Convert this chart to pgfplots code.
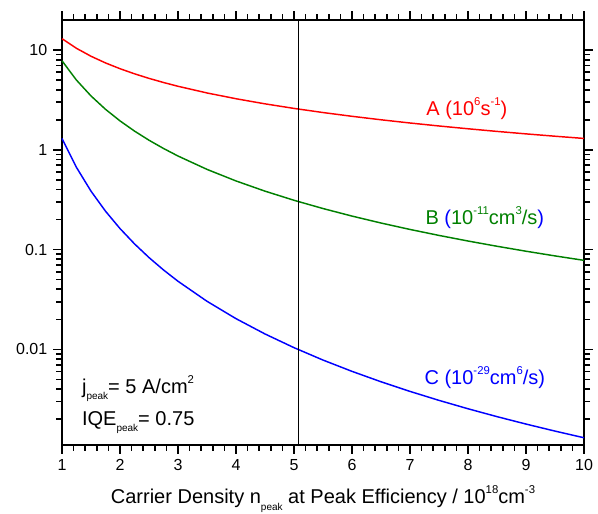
\documentclass[border=0pt]{standalone}
\usepackage{pgfplots}
\pgfplotsset{compat=1.18}
\usepackage{fontspec}
\setmainfont{Liberation Sans}
\definecolor{cA}{RGB}{255,0,0}
\definecolor{cB}{RGB}{0,128,0}
\definecolor{cC}{RGB}{0,0,255}
\newcommand{\sbs}[1]{\raisebox{-0.33em}{\fontsize{7.5}{8}\selectfont #1}}
\newcommand{\sps}[1]{\raisebox{0.5em}{\fontsize{8.5}{9}\selectfont #1}}
\begin{document}
\begin{tikzpicture}
\useasboundingbox (-46.5pt,-51pt) rectangle (402pt,333.75pt);
\begin{axis}[
  scale only axis,
  width=391.5pt, height=318.75pt,
  xmin=1, xmax=10,
  ymode=log, ymin=0.0011, ymax=20,
  xtick={1,2,3,4,5,6,7,8,9,10},
  xticklabels={1,2,3,4,5,6,7,8,9,10},
  minor x tick num=4,
  ytick={0.01,0.1,1,10},
  yticklabels={0.01,0.1,1,10},
  minor ytick={0.002,0.003,0.004,0.005,0.006,0.007,0.008,0.009,0.02,0.03,0.04,0.05,0.06,0.07,0.08,0.09,0.2,0.3,0.4,0.5,0.6,0.7,0.8,0.9,2,3,4,5,6,7,8,9},
  tick align=outside,
  major tick length=6.5pt,
  minor tick length=4.5pt,
  axis line style={line width=1pt},
  tick style={black, line width=1.2pt},
  minor tick style={black, line width=1.2pt},
  tick label style={font=\fontsize{12}{14}\selectfont},
  xticklabel style={yshift=-1pt},
  yticklabel style={xshift=-1pt},
  clip=false,
]
\addplot[cA, line width=1.1pt] coordinates {
(1,13) (1.25,10.4) (1.5,8.6667) (1.75,7.4286) (2,6.5) (2.25,5.7778) (2.5,5.2) (2.75,4.7273) (3,4.3333) (3.5,3.7143) (4,3.25) (4.5,2.8889) (5,2.6) (5.5,2.3636) (6,2.1667) (6.5,2.0) (7,1.8571) (7.5,1.7333) (8,1.625) (8.5,1.5294) (9,1.4444) (9.5,1.3684) (10,1.3)};
\addplot[cB, line width=1.1pt] coordinates {
(1,7.8) (1.25,4.992) (1.5,3.4667) (1.75,2.5469) (2,1.95) (2.25,1.5407) (2.5,1.248) (2.75,1.0314) (3,0.86667) (3.5,0.63673) (4,0.4875) (4.5,0.38519) (5,0.312) (5.5,0.25785) (6,0.21667) (6.5,0.18462) (7,0.15918) (7.5,0.13867) (8,0.121875) (8.5,0.10796) (9,0.096296) (9.5,0.086427) (10,0.078)};
\addplot[cC, line width=1.1pt] coordinates {
(1,1.3) (1.25,0.6656) (1.5,0.38519) (1.75,0.24257) (2,0.1625) (2.25,0.11413) (2.5,0.0832) (2.75,0.06251) (3,0.048148) (3.5,0.030321) (4,0.0203125) (4.5,0.014266) (5,0.0104) (5.5,0.0078137) (6,0.0060185) (6.5,0.0047337) (7,0.0037901) (7.5,0.0030815) (8,0.0025391) (8.5,0.0021168) (9,0.0017833) (9.5,0.0015163) (10,0.0013)};
\addplot[black, line width=0.9pt] coordinates {(5.08,0.0011) (5.08,20)};
\node[cA, font=\fontsize{15}{17}\selectfont] at (axis cs:7.98,2.6) {A (10\sps{6}s\sps{-1})};
\node[cB, font=\fontsize{15}{17}\selectfont] at (axis cs:8.29,0.211) {B \textcolor{cC}{(}10\sps{-11}cm\sps{3}/s\textcolor{cC}{)}};
\node[cC, font=\fontsize{15}{17}\selectfont] at (axis cs:8.29,0.00524) {C (10\sps{-29}cm\sps{6}/s)};
\node[anchor=base west, inner sep=0pt, font=\fontsize{15}{17}\selectfont] at (rel axis cs:0.038,0.122) {j\sbs{peak}= 5 A/cm\sps{2}};
\node[anchor=base west, inner sep=0pt, font=\fontsize{15}{17}\selectfont] at (rel axis cs:0.038,0.047) {IQE\sbs{peak}= 0.75};
\node[anchor=base, inner sep=0pt, font=\fontsize{15}{17}\selectfont] at (rel axis cs:0.5,-0.138) {Carrier Density n\sbs{peak} at Peak Efficiency / 10\sps{18}cm\sps{-3}};
\end{axis}
\end{tikzpicture}
\end{document}
